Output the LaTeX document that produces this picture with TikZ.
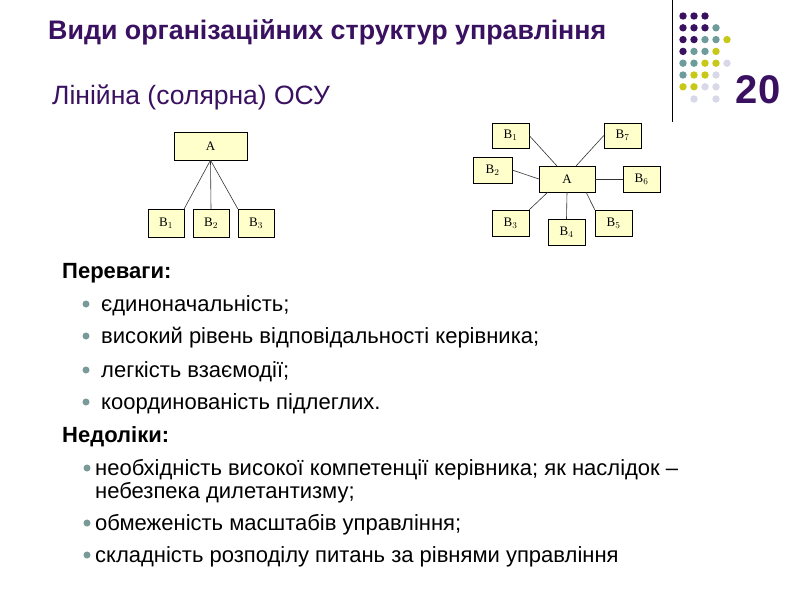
\documentclass[tikz,border=0pt]{standalone}
\usepackage{fontspec}
\setmainfont{Liberation Sans}
\newfontfamily\serifb{Liberation Serif}
\begin{document}
\begin{tikzpicture}[x=1pt,y=-1pt,
 bx/.style={draw,fill=boxy,inner sep=0pt,font=\serifb\fontsize{13}{13}\selectfont},
 ln/.style={draw=black!80,line width=0.6pt},
 bul/.style={fill=bulc,circle,inner sep=0pt,minimum size=7pt},
 txt/.style={anchor=west,inner sep=0pt,font=\fontsize{22}{23}\selectfont}]
\definecolor{boxy}{HTML}{FFFFCC}
\definecolor{pur}{HTML}{3A1060}
\definecolor{tl}{HTML}{6E9C9C}
\definecolor{yl}{HTML}{C8C818}
\definecolor{lv}{HTML}{D8D8E8}
\definecolor{bulc}{HTML}{7A9A9A}
\useasboundingbox (0,0) rectangle (800,600);
\fill[white] (0,0) rectangle (800,600);
% header
\node[anchor=west,inner sep=0pt,text=pur,font=\bfseries\fontsize{26.8}{27}\selectfont] (title) at (48,32) {Види організаційних структур управління};
\node[anchor=west,inner sep=0pt,text=pur,font=\fontsize{26.5}{27}\selectfont] (sub) at (52,97) {Лінійна (солярна) ОСУ};
\draw[line width=0.8pt] (672,0) -- (672,122);
\node[text=pur,font=\bfseries\fontsize{40}{40}\selectfont,inner sep=0pt] (num) at (758,90) {20};
\foreach \r/\row in {0/{pur,pur,pur},1/{pur,pur,pur,tl},2/{pur,pur,tl,tl,yl},3/{pur,tl,tl,yl},4/{tl,tl,yl,yl,lv},5/{tl,yl,yl,lv},6/{yl,yl,lv,lv}}{
  \foreach \c [count=\i from 0] in \row { \fill[\c] (683+11*\i,16+11.8*\r) circle (3.7); } }
\fill[lv] (694,99) circle (3.7); \fill[lv] (716,99) circle (3.7);
% tree
\node[bx,minimum width=73pt,minimum height=28pt] (tA) at (210.5,146) {A};
\node[bx,minimum width=36pt,minimum height=28pt] (tB1) at (166,223) {B$_1$};
\node[bx,minimum width=36pt,minimum height=28pt] (tB2) at (211,223) {B$_2$};
\node[bx,minimum width=36pt,minimum height=28pt] (tB3) at (256,223) {B$_3$};
\draw[ln] (tA.south) -- (tB1.north east);
\draw[ln] (tA.south) -- (tB2.north);
\draw[ln] (tA.south) -- (tB3.north west);
% star
\node[bx,minimum width=56pt,minimum height=26pt] (A) at (567,179) {A};
\node[bx,minimum width=37pt,minimum height=25pt] (B1) at (510.5,135.5) {B$_1$};
\node[bx,minimum width=37pt,minimum height=25pt] (B7) at (622.5,135.5) {B$_7$};
\node[bx,minimum width=39pt,minimum height=26pt] (B2) at (492.5,170) {B$_2$};
\node[bx,minimum width=37pt,minimum height=26pt] (B6) at (641.5,179) {B$_6$};
\node[bx,minimum width=37pt,minimum height=26pt] (B3) at (510.5,223) {B$_3$};
\node[bx,minimum width=37pt,minimum height=26pt] (B4) at (566.5,232) {B$_4$};
\node[bx,minimum width=37pt,minimum height=26pt] (B5) at (613.5,223) {B$_5$};
\draw[ln] (B1.east) -- (557,166);
\draw[ln] (B7.west) -- (576,166);
\draw[ln] (B2.east) -- (A.west);
\draw[ln] (B6.west) -- (A.east);
\draw[ln] (B3.north east) -- (548,192);
\draw[ln] (B4.north) -- (A.south);
\draw[ln] (B5.north west) -- (586,192);
% text
\node[txt,font=\bfseries\fontsize{22}{23}\selectfont] (p) at (62,273) {Переваги:};
\foreach \y/\t [count=\k] in {306/єдиноначальність;,338/високий рівень відповідальності керівника;,372/легкість взаємодії;,404/координованість підлеглих.}{
  \node[bul] (pb\k) at (86,\y-2) {};
  \node[txt] (pt\k) at (101,\y) {\t};}
\node[txt,font=\bfseries\fontsize{22}{23}\selectfont] (n) at (62,437) {Недоліки:};
\node[bul] (nb1) at (87,468) {};
\node[txt,anchor=north west,align=left] (nt1) at (95,459) {необхідність високої компетенції керівника; як наслідок –\\небезпека дилетантизму;};
\node[bul] (nb2) at (87,523) {};
\node[txt] (nt2) at (95,525) {обмеженість масштабів управління;};
\node[bul] (nb3) at (87,555) {};
\node[txt] (nt3) at (95,557) {складність розподілу питань за рівнями управління};
\end{tikzpicture}
\end{document}
